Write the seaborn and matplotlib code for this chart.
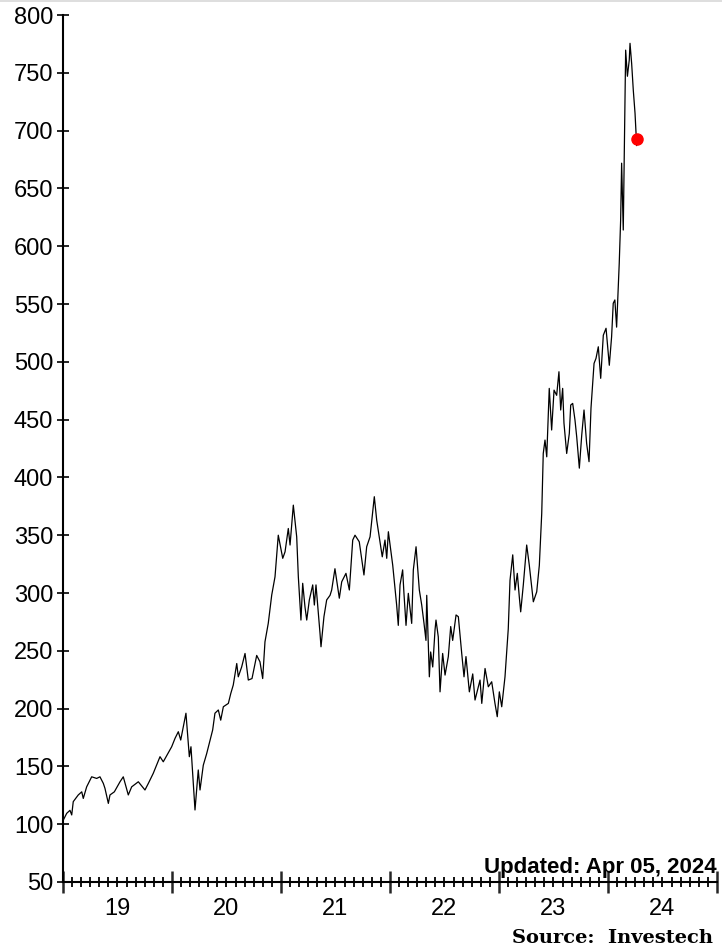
import numpy as np
import pandas as pd
import matplotlib
matplotlib.use("Agg")
import matplotlib.pyplot as plt
import seaborn as sns
from matplotlib.ticker import FixedLocator, FuncFormatter

# weekly-ish closes (decimal year, price)
years_2019 = [2019.003, 2019.034, 2019.064, 2019.080, 2019.094, 2019.140, 2019.172, 2019.186,
              2019.217, 2019.263, 2019.309, 2019.339, 2019.370, 2019.385, 2019.416, 2019.431,
              2019.471, 2019.523, 2019.553, 2019.599, 2019.630, 2019.691, 2019.752, 2019.783,
              2019.828, 2019.890, 2019.920, 2019.997]
price_2019 = [103.6, 109.4, 112.0, 108.0, 119.5, 125.3, 128.0, 122.3,
              132.3, 141.0, 139.6, 141.0, 135.3, 131.0, 118.0, 125.3,
              128.0, 136.7, 141.0, 125.3, 132.3, 136.7, 129.6, 135.3,
              144.0, 158.4, 154.0, 167.0]

years_2020 = [2020.028, 2020.058, 2020.080, 2020.128, 2020.159, 2020.174, 2020.211, 2020.241,
              2020.257, 2020.287, 2020.318, 2020.373, 2020.394, 2020.425, 2020.447, 2020.471,
              2020.517, 2020.539, 2020.562, 2020.594, 2020.608, 2020.639, 2020.670, 2020.700,
              2020.734, 2020.777, 2020.807, 2020.832, 2020.853, 2020.883, 2020.915, 2020.945,
              2020.975]
price_2020 = [174.3, 180.0, 172.8, 196.0, 158.4, 167.0, 112.3, 146.9,
              129.6, 151.0, 161.0, 181.5, 196.0, 198.8, 190.0, 201.6,
              204.5, 213.0, 220.4, 239.0, 227.5, 236.0, 247.7, 224.7,
              226.0, 246.0, 240.5, 226.0, 257.8, 273.7, 298.3, 314.0,
              350.0]

years_2021 = [2021.016, 2021.037, 2021.067, 2021.083, 2021.113, 2021.144, 2021.159, 2021.183,
              2021.199, 2021.220, 2021.236, 2021.260, 2021.291, 2021.306, 2021.321, 2021.358,
              2021.367, 2021.394, 2021.419, 2021.450, 2021.465, 2021.495, 2021.535, 2021.557,
              2021.596, 2021.627, 2021.658, 2021.679, 2021.718, 2021.761, 2021.786, 2021.817,
              2021.856, 2021.878, 2021.929, 2021.954, 2021.970, 2021.985]
price_2021 = [330.0, 335.6, 355.8, 341.5, 376.0, 348.6, 314.0, 276.6,
              308.4, 288.0, 276.6, 294.0, 307.0, 289.6, 307.0, 265.0,
              253.5, 279.5, 294.0, 298.0, 302.6, 321.0, 295.5, 309.7,
              317.0, 302.6, 345.8, 350.0, 344.3, 315.6, 340.0, 348.6,
              383.3, 363.0, 331.3, 345.8, 330.0, 353.0]

years_2022 = [2022.025, 2022.061, 2022.076, 2022.092, 2022.116, 2022.128, 2022.147, 2022.168,
              2022.199, 2022.214, 2022.239, 2022.269, 2022.291, 2022.312, 2022.330, 2022.337,
              2022.361, 2022.373, 2022.392, 2022.413, 2022.422, 2022.443, 2022.459, 2022.483,
              2022.505, 2022.535, 2022.557, 2022.575, 2022.606, 2022.627, 2022.658, 2022.679,
              2022.697, 2022.728, 2022.759, 2022.780, 2022.826, 2022.842, 2022.872, 2022.902,
              2022.933, 2022.963, 2022.984]
price_2022 = [324.0, 289.6, 272.0, 307.0, 320.0, 299.7, 272.0, 299.7,
              273.7, 320.0, 340.0, 302.6, 289.6, 273.7, 259.0, 298.0,
              227.5, 249.0, 236.0, 268.0, 276.6, 262.0, 214.5, 247.7,
              229.0, 245.0, 271.0, 259.0, 281.0, 279.5, 247.7, 227.5,
              245.0, 214.5, 230.0, 207.4, 224.7, 204.5, 234.7, 218.9,
              223.2, 204.5, 193.0]

years_2023 = [2023.003, 2023.025, 2023.055, 2023.076, 2023.085, 2023.101, 2023.126, 2023.147,
              2023.168, 2023.186, 2023.199, 2023.223, 2023.254, 2023.278, 2023.315, 2023.346,
              2023.370, 2023.392, 2023.406, 2023.422, 2023.438, 2023.461, 2023.483, 2023.505,
              2023.529, 2023.550, 2023.566, 2023.584, 2023.596, 2023.621, 2023.645, 2023.658,
              2023.676, 2023.697, 2023.713, 2023.737, 2023.759, 2023.780, 2023.804, 2023.826,
              2023.844, 2023.872, 2023.890, 2023.911, 2023.933, 2023.957, 2023.982]
price_2023 = [214.5, 201.6, 227.5, 256.4, 269.0, 311.0, 333.0, 302.6,
              317.0, 296.8, 283.7, 307.0, 341.5, 324.0, 292.4, 301.0,
              324.0, 368.8, 420.7, 432.3, 417.8, 477.0, 441.0, 475.5,
              471.0, 491.4, 458.3, 477.0, 447.0, 420.7, 438.0, 462.6,
              464.0, 449.7, 435.0, 408.0, 436.6, 458.3, 429.4, 413.6,
              460.0, 498.6, 503.0, 513.0, 485.7, 523.0, 529.0]

years_2024 = [2024.012, 2024.033, 2024.048, 2024.063, 2024.079, 2024.103, 2024.116, 2024.125,
              2024.140, 2024.156, 2024.162, 2024.178, 2024.195, 2024.202, 2024.217, 2024.232,
              2024.248, 2024.263]
price_2024 = [497.0, 521.6, 550.6, 553.5, 530.0, 585.0, 622.7, 671.8,
              614.0, 729.3, 769.6, 747.0, 761.0, 775.5, 758.0, 735.0,
              715.0, 687.0]

last_date = [2024.263]
last_price = [693.0]

y_ticks = list(range(50, 801, 50))
year_labels = ["19", "20", "21", "22", "23", "24"]

df = pd.DataFrame({
    "date": years_2019 + years_2020 + years_2021 + years_2022 + years_2023 + years_2024,
    "price": price_2019 + price_2020 + price_2021 + price_2022 + price_2023 + price_2024,
})

sns.set_style("ticks")
plt.rcParams["font.family"] = ["Liberation Sans", "DejaVu Sans"]

fig = plt.figure(figsize=(7.22, 9.52), dpi=100)
ax = fig.add_axes([63 / 722, 1 - 882 / 952, 654 / 722, 867 / 952])

sns.lineplot(data=df, x="date", y="price", color="black", linewidth=0.9, ax=ax)
ax.plot(last_date, last_price, "o", color="#ff0000", markersize=8, zorder=5)

ax.set_xlim(2019, 2025)
ax.set_ylim(50, 800)
ax.set_xlabel("")
ax.set_ylabel("")

for side in ["top", "right"]:
    ax.spines[side].set_visible(False)
for side in ["left", "bottom"]:
    ax.spines[side].set_linewidth(1.5)
    ax.spines[side].set_color("black")

ax.set_yticks(y_ticks)
ax.tick_params(axis="y", left=True, direction="inout", length=8, width=1.2, pad=3,
               labelsize=17, colors="black")

# year boundaries as long ticks, months as short ones, labels mid-year
ax.xaxis.set_major_locator(FixedLocator(np.arange(2019, 2026)))
ax.xaxis.set_major_formatter(FuncFormatter(lambda v, p: ""))
ax.xaxis.set_minor_locator(FixedLocator(np.arange(2019, 2025, 1 / 12)))

def mid_year(v, p):
    frac = v - np.floor(v + 1e-6)
    if abs(frac - 0.5) < 1e-3:
        idx = int(np.floor(v)) - 2019
        if 0 <= idx < len(year_labels):
            return year_labels[idx]
    return ""

ax.xaxis.set_minor_formatter(FuncFormatter(mid_year))
ax.tick_params(axis="x", which="major", bottom=True, direction="inout", length=16, width=1.8)
ax.tick_params(axis="x", which="minor", bottom=True, direction="inout", length=7, width=1.3,
               pad=8, labelsize=17, colors="black")

fig.text(717 / 722, 1 - 873 / 952, "Updated: Apr 05, 2024", ha="right", va="baseline",
         fontsize=16, fontweight="bold", color="black")
fig.text(713 / 722, 1 - 943 / 952, "Source:  Investech", ha="right", va="baseline",
         fontsize=14, fontweight="bold", family="DejaVu Serif", color="black")

fig.add_artist(plt.Line2D([0, 1], [0.9985, 0.9985], color="#d8d8d8", linewidth=1.2))

fig.savefig("out.png", dpi=100)
